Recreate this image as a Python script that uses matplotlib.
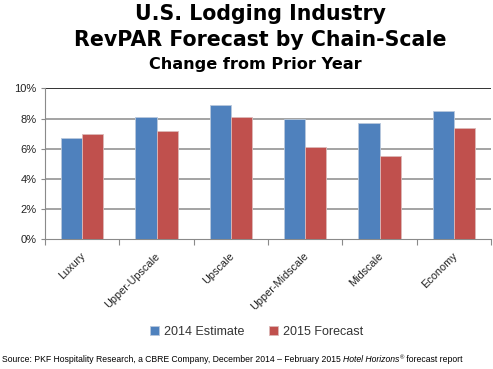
import matplotlib.pyplot as plt
import numpy as np

# data
categories = ['Luxury', 'Upper-Upscale', 'Upscale', 'Upper-Midscale', 'Midscale', 'Economy']
est_2014 = [6.7, 8.1, 8.9, 8.0, 7.7, 8.5]
fc_2015 = [7.0, 7.2, 8.1, 6.1, 5.5, 7.4]
series_names = ['2014 Estimate', '2015 Forecast']
yticks = [0, 2, 4, 6, 8, 10]

blue = '#4F81BD'
red = '#C0504D'

plt.rcParams['font.family'] = ['Liberation Sans', 'DejaVu Sans']

fig = plt.figure(figsize=(4.93, 3.69), dpi=100)
ax = fig.add_axes([0.0913, 0.3515, 0.9047, 0.4092])

x = np.arange(len(categories))
w = 0.283
b1 = ax.bar(x - w / 2, est_2014, w, color=blue, edgecolor='#b8c8dc', linewidth=0.6, zorder=3)
b2 = ax.bar(x + w / 2, fc_2015, w, color=red, edgecolor='#dcb8b8', linewidth=0.6, zorder=3)

ax.set_xlim(-0.5, len(categories) - 0.5)
ax.set_ylim(0, 10)
ax.set_yticks(yticks)
ax.set_yticklabels([f'{v}%' for v in yticks], fontsize=8, color='#222222')

# gridlines
for v in yticks[1:-1]:
    ax.axhline(v, color='#8a8a8a', linewidth=1.1, zorder=1)
ax.axhline(10, color='#222222', linewidth=1.3, zorder=1)

# category ticks between groups, labels at centers
ax.set_xticks(np.arange(len(categories) + 1) - 0.5)
ax.set_xticklabels([])
ax.tick_params(axis='x', length=4, color='#8a8a8a', direction='out')
ax.tick_params(axis='y', length=3, color='#8a8a8a', pad=3)
for i, name in enumerate(categories):
    ax.annotate(name, xy=(i, 0), xycoords=('data', 'axes fraction'),
                xytext=(-1, -8.5), textcoords='offset points',
                rotation=45, rotation_mode='anchor', ha='right', va='top',
                fontsize=7.8, color='#222222')

for s in ['left', 'bottom']:
    ax.spines[s].set_color('#8a8a8a')
ax.spines['right'].set_visible(False)
ax.spines['top'].set_visible(False)

# titles
title_font = ['DejaVu Sans']
fig.text(0.528, 0.962, 'U.S. Lodging Industry', ha='center', va='center',
         fontsize=14.8, fontweight='bold', family=title_font)
fig.text(0.528, 0.892, 'RevPAR Forecast by Chain-Scale', ha='center', va='center',
         fontsize=14.8, fontweight='bold', family=title_font)
fig.text(0.518, 0.826, 'Change from Prior Year', ha='center', va='center',
         fontsize=11.6, fontweight='bold', family=title_font)

# legend
fig.legend([b1, b2], series_names, loc='center', bbox_to_anchor=(0.52, 0.1),
           ncol=2, frameon=False, fontsize=9, handlelength=0.7, handleheight=0.7,
           handletextpad=0.4, columnspacing=2.0, labelcolor='#333333')

# source line, with italic publication name
fs = 6.2
t1 = fig.text(0.004, 0.018, 'Source: PKF Hospitality Research, a CBRE Company, December 2014 \u2013 February 2015 ',
              fontsize=fs, va='baseline')
t2 = fig.text(0, 0, 'Hotel Horizons', fontsize=fs, fontstyle='italic', va='baseline')
t3 = fig.text(0, 0, '\u00ae', fontsize=4.2, va='baseline')
t4 = fig.text(0, 0, ' forecast report', fontsize=fs, va='baseline')

fig.canvas.draw()
r = fig.canvas.get_renderer()
inv = fig.transFigure.inverted()
prev = t1
for t in (t2, t3, t4):
    bb = prev.get_window_extent(r)
    xr, _ = inv.transform((bb.x1, bb.y0))
    dy = 0.008 if t is t3 else 0.0
    t.set_position((xr, 0.018 + dy))
    fig.canvas.draw()
    prev = t

fig.savefig('out.png', dpi=100)
